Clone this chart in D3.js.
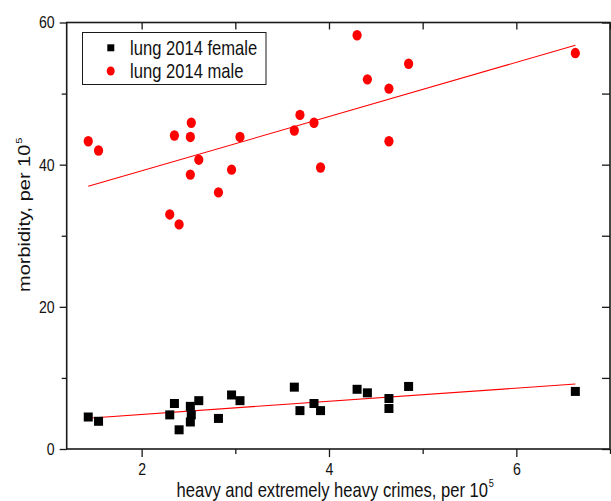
<!DOCTYPE html>
<html>
<head>
<meta charset="utf-8">
<script src="https://cdn.jsdelivr.net/npm/d3@7"></script>
<style>
  body { margin: 0; background: #fff; }
  svg text { font-family: "Liberation Sans", Arial, sans-serif; fill: #111; }
</style>
</head>
<body>
<svg id="chart" width="611" height="501"></svg>
<script>
// heavy and extremely heavy crimes per 10^5 (one value per region)
const crimes = [1.43, 1.54, 2.30, 2.35, 2.40, 2.52, 2.53, 2.52, 2.61, 2.82, 2.96,
                3.05, 3.63, 3.69, 3.84, 3.91, 4.30, 4.41, 4.64, 4.64, 4.85, 6.63];
// lung cancer morbidity 2014 per 10^5
const female = [4.5, 3.9, 4.8, 6.4, 2.7, 6.0, 4.8, 3.8, 6.8, 4.3, 7.6,
                6.8, 8.7, 5.4, 6.4, 5.4, 8.4, 7.9, 7.1, 5.7, 8.8, 8.1];
const male = [43.3, 42.0, 33.0, 44.1, 31.6, 43.9, 45.9, 38.6, 40.7, 36.1, 39.3,
              43.9, 44.8, 47.0, 45.9, 39.6, 58.2, 52.0, 50.7, 43.3, 54.2, 55.7];

const seriesNames = ["lung 2014 female", "lung 2014 male"];
const xTicks = [2, 4, 6];
const xMinor = [3, 5, 7];
const yTicks = [0, 20, 40, 60];
const yMinor = [10, 30, 50];

const svg = d3.select("#chart");

// plot frame
const pLeft = 66.7, pRight = 610, pTop = 22.5, pBottom = 449;
// the original text is horizontally condensed
const squeeze = 0.83;

const x = d3.scaleLinear().domain([1.2, 7]).range([pLeft, pRight]);
const y = d3.scaleLinear().domain([0, 60]).range([pBottom, pTop]);

// least squares fit
function fit(xs, ys) {
  const mx = d3.mean(xs), my = d3.mean(ys);
  let sxy = 0, sxx = 0;
  xs.forEach((v, i) => { sxy += (v - mx) * (ys[i] - my); sxx += (v - mx) * (v - mx); });
  const b = sxy / sxx;
  return { a: my - b * mx, b: b };
}

// condense tick label text around its anchor
function narrowTicks(g) {
  g.selectAll("text")
    .attr("font-size", 17).attr("font-family", null)
    .attr("transform", function () {
      const tx = +this.getAttribute("x") || 0;
      return `translate(${tx},0) scale(${squeeze},1)`;
    })
    .attr("x", 0);
}

const axisColor = "#1a1a1a";

// bottom axis (ticks outward)
svg.append("g")
  .attr("transform", `translate(0,${pBottom})`)
  .call(d3.axisBottom(x).tickValues(xTicks).tickSize(8).tickPadding(6).tickFormat(d3.format("d")))
  .call(g => g.select(".domain").remove())
  .call(narrowTicks);
svg.append("g")
  .attr("transform", `translate(0,${pBottom})`)
  .call(d3.axisBottom(x).tickValues(xMinor).tickSize(5).tickFormat(""))
  .call(g => g.select(".domain").remove());

// top axis (ticks inward)
svg.append("g")
  .attr("transform", `translate(0,${pTop})`)
  .call(d3.axisBottom(x).tickValues(xTicks.concat(xMinor)).tickSize(7).tickFormat(""))
  .call(g => g.select(".domain").remove());

// left axis (ticks outward)
svg.append("g")
  .attr("transform", `translate(${pLeft},0)`)
  .call(d3.axisLeft(y).tickValues(yTicks).tickSize(7).tickPadding(5))
  .call(g => g.select(".domain").remove())
  .call(narrowTicks);
svg.append("g")
  .attr("transform", `translate(${pLeft},0)`)
  .call(d3.axisLeft(y).tickValues(yMinor).tickSize(5).tickFormat(""))
  .call(g => g.select(".domain").remove());

// right axis (ticks inward)
svg.append("g")
  .attr("transform", `translate(${pRight},0)`)
  .call(d3.axisLeft(y).tickValues(yTicks.concat(yMinor)).tickSize(8).tickFormat(""))
  .call(g => g.select(".domain").remove());

svg.selectAll(".tick line").attr("stroke", axisColor).attr("stroke-width", 1.3);

svg.append("rect")
  .attr("x", pLeft).attr("y", pTop)
  .attr("width", pRight - pLeft).attr("height", pBottom - pTop)
  .attr("fill", "none").attr("stroke", axisColor).attr("stroke-width", 1.6);

// fit lines
const xr = d3.extent(crimes);
[female, male].forEach(ys => {
  const f = fit(crimes, ys);
  svg.append("line")
    .attr("x1", x(xr[0])).attr("y1", y(f.a + f.b * xr[0]))
    .attr("x2", x(xr[1])).attr("y2", y(f.a + f.b * xr[1]))
    .attr("stroke", "#ff0000").attr("stroke-width", 1.1);
});

// female squares
const sq = 9;
svg.append("g").selectAll("rect")
  .data(crimes.map((c, i) => [c, female[i]]))
  .join("rect")
  .attr("x", d => x(d[0]) - sq / 2)
  .attr("y", d => y(d[1]) - sq / 2)
  .attr("width", sq).attr("height", sq)
  .attr("fill", "#000");

// male circles
svg.append("g").selectAll("ellipse")
  .data(crimes.map((c, i) => [c, male[i]]))
  .join("ellipse")
  .attr("cx", d => x(d[0]))
  .attr("cy", d => y(d[1]))
  .attr("rx", 4.6).attr("ry", 5.2)
  .attr("fill", "#ff0000");

// legend
const legend = svg.append("g");
legend.append("rect")
  .attr("x", 82.5).attr("y", 32.5).attr("width", 183.5).attr("height", 52)
  .attr("fill", "#fff").attr("stroke", axisColor).attr("stroke-width", 1);
legend.append("rect")
  .attr("x", 107.3).attr("y", 44.3).attr("width", 7).attr("height", 7).attr("fill", "#000");
legend.append("ellipse")
  .attr("cx", 110.7).attr("cy", 71).attr("rx", 4).attr("ry", 4.6).attr("fill", "#ff0000");
legend.selectAll("text.lg")
  .data(seriesNames)
  .join("text")
  .attr("class", "lg")
  .attr("transform", (d, i) => `translate(130,${54.5 + i * 23.4}) scale(${squeeze},1)`)
  .attr("font-size", 20)
  .text(d => d);

// axis titles
const xt = svg.append("text")
  .attr("transform", `translate(176.5,497) scale(${squeeze},1)`)
  .attr("font-size", 20);
xt.append("tspan").text("heavy and extremely heavy crimes, per 10");
xt.append("tspan").attr("font-size", 11).attr("dy", -10).attr("dx", 1).text("5");

const yt = svg.append("text")
  .attr("transform", `translate(30,292) rotate(-90) scale(1,${squeeze})`)
  .attr("font-size", 20);
yt.append("tspan").text("morbidity, per 10");
yt.append("tspan").attr("font-size", 11).attr("dy", -10).attr("dx", 1).text("5");
</script>
</body>
</html>
